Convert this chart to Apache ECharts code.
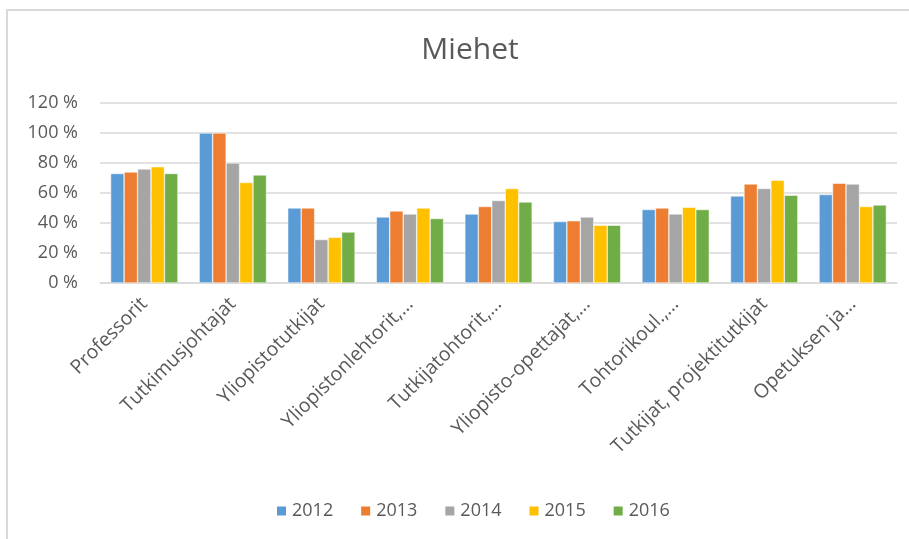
<!DOCTYPE html>
<html>
<head>
<meta charset="utf-8">
<script src="https://cdn.jsdelivr.net/npm/echarts@6/dist/echarts.min.js"></script>
<style>
  html, body { margin: 0; padding: 0; background: #fff; }
  #main { width: 909px; height: 539px; }
</style>
</head>
<body>
<div id="main"></div>
<script>
// kategoriat ja vuodet
var categories = ['Professorit', 'Tutkimusjohtajat', 'Yliopistotutkijat', 'Yliopistonlehtorit,…',
    'Tutkijatohtorit,…', 'Yliopisto-opettajat,…', 'Tohtorikoul.,…', 'Tutkijat, projektitutkijat', 'Opetuksen ja…'];
var years = ['2012', '2013', '2014', '2015', '2016'];

// arvot prosentteina
var v2012 = [73, 100, 50, 44, 46, 41, 49, 58, 59];
var v2013 = [74, 100, 50, 48, 51, 41.5, 50, 66, 66.5];
var v2014 = [76, 80, 29, 46, 55, 44, 46, 63, 66];
var v2015 = [77.5, 67, 30.5, 50, 63, 38.5, 50.5, 68.5, 51];
var v2016 = [73, 72, 34, 43, 54, 38.5, 49, 58.5, 52];

var yTicks = [0, 20, 40, 60, 80, 100, 120];
var colors = ['#5b9bd5', '#ed7d31', '#a5a5a5', '#ffc000', '#70ad47'];

var fontFam = '"Open Sans", "Noto Sans", sans-serif';

var myCharts = echarts.init(document.getElementById('main'));

var allData = [v2012, v2013, v2014, v2015, v2016];
var series = [];
years.forEach(function (y, i) {
    series.push({
        name: y,
        type: 'bar',
        data: allData[i],
        barGap: '0%',
        barCategoryGap: '24%',
        itemStyle: { color: colors[i], borderColor: '#ffffff', borderWidth: 0.5 }
    });
});

var option = {
    color: colors,
    title: {
        text: 'Miehet',
        left: 465,
        textAlign: 'center',
        top: 30,
        textStyle: { fontFamily: fontFam, fontSize: 30, fontWeight: 'normal', color: '#595959' }
    },
    legend: {
        data: years,
        left: 270,
        top: 497,
        itemWidth: 11,
        itemHeight: 11,
        itemGap: 26,
        icon: 'rect',
        textStyle: { fontFamily: fontFam, fontSize: 18, color: '#595959' }
    },
    grid: { left: 100, right: 12, top: 103, bottom: 256 },
    xAxis: {
        type: 'category',
        data: categories,
        axisTick: { show: false },
        axisLine: { lineStyle: { color: '#d9d9d9', width: 1.5 } },
        axisLabel: {
            rotate: 45,
            interval: 0,
            margin: 18,
            fontFamily: fontFam,
            fontSize: 19.5,
            color: '#595959'
        }
    },
    yAxis: {
        type: 'value',
        min: yTicks[0],
        max: yTicks[yTicks.length - 1],
        interval: 20,
        axisLine: { show: false },
        axisTick: { show: false },
        splitLine: { lineStyle: { color: '#d9d9d9', width: 1.5 } },
        axisLabel: {
            formatter: '{value} %',
            margin: 22,
            fontFamily: fontFam,
            fontSize: 18,
            color: '#595959'
        }
    },
    // kaavion reunaviivat
    graphic: [
        { type: 'line', shape: { x1: 7, y1: 10, x2: 7, y2: 539 }, style: { stroke: '#d9d9d9', lineWidth: 2 } },
        { type: 'line', shape: { x1: 6, y1: 10, x2: 909, y2: 10 }, style: { stroke: '#d9d9d9', lineWidth: 2 } }
    ],
    series: series
};

myCharts.setOption(option);
</script>
</body>
</html>
